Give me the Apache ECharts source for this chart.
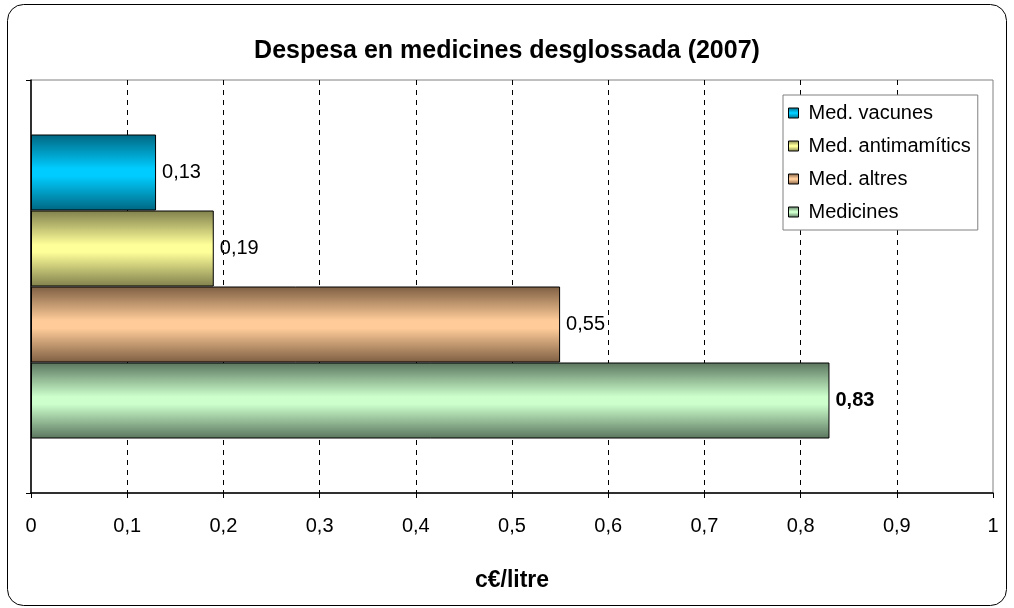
<!DOCTYPE html>
<html>
<head>
<meta charset="utf-8">
<script src="https://cdn.jsdelivr.net/npm/echarts@6/dist/echarts.min.js"></script>
<style>
  html, body { margin: 0; padding: 0; background: #fff; }
  #chart { width: 1014px; height: 608px; }
</style>
</head>
<body>
<div id="chart"></div>
<script>
// dades
var categories = [''];
var seriesNames = ['Med. vacunes', 'Med. antimamítics', 'Med. altres', 'Medicines'];
var seriesValues = [0.13, 0.19, 0.55, 0.83];

// colors: [fosc, clar] per cada serie
var barColors = [
    ['#006680', '#00ccff'],
    ['#80804d', '#ffff99'],
    ['#7d5e42', '#ffcc99'],
    ['#5a755e', '#ccffcc']
];

var FONT = '"Liberation Sans", Arial, sans-serif';

function fmt(v) {
    return String(v).replace('.', ',');
}

function grad(c) {
    return new echarts.graphic.LinearGradient(0, 0, 0, 1, [
        { offset: 0, color: c[0] },
        { offset: 0.45, color: c[1] },
        { offset: 0.55, color: c[1] },
        { offset: 1, color: c[0] }
    ]);
}

var series = seriesNames.map(function (name, i) {
    return {
        name: name,
        type: 'bar',
        data: [seriesValues[i]],
        barWidth: 76,
        barGap: '0%',
        itemStyle: {
            color: grad(barColors[i]),
            borderColor: '#000',
            borderWidth: 1
        },
        label: {
            show: true,
            position: 'right',
            distance: 6,
            color: '#000',
            fontFamily: FONT,
            fontSize: 20,
            fontWeight: i == seriesNames.length - 1 ? 'bold' : 'normal',
            formatter: function (p) { return fmt(p.value); }
        }
    };
});

var chart = echarts.init(document.getElementById('chart'));
chart.setOption({
    animation: false,
    backgroundColor: '#fff',
    textStyle: { fontFamily: FONT },
    title: {
        text: 'Despesa en medicines desglossada (2007)',
        left: 'center',
        top: 34,
        textStyle: { fontFamily: FONT, fontSize: 25, fontWeight: 'bold', color: '#000' }
    },
    graphic: [{
        type: 'rect',
        shape: { x: 7.5, y: 4.5, width: 999, height: 601, r: 16 },
        style: { fill: 'none', stroke: '#000', lineWidth: 1 },
        silent: true,
        z: 100
    }],
    legend: {
        orient: 'vertical',
        left: 783,
        top: 95,
        data: seriesNames,
        icon: 'rect',
        itemWidth: 10,
        itemHeight: 10,
        itemGap: 13,
        padding: [8, 7, 8, 5],
        borderColor: '#808080',
        borderWidth: 1,
        backgroundColor: '#fff',
        textStyle: { fontFamily: FONT, fontSize: 20, color: '#000', padding: [0, 0, 0, 5] },
        itemStyle: { borderColor: '#000', borderWidth: 1 }
    },
    grid: {
        left: 31,
        right: 21,
        top: 80,
        bottom: 115,
        show: true,
        borderColor: '#808080',
        borderWidth: 1,
        backgroundColor: 'transparent'
    },
    xAxis: {
        type: 'value',
        min: 0,
        max: 1,
        interval: 0.1,
        name: 'c€/litre',
        nameLocation: 'middle',
        nameGap: 76,
        nameTextStyle: { fontFamily: FONT, fontSize: 23, fontWeight: 'bold', color: '#000' },
        axisLine: { show: true, lineStyle: { color: '#000', width: 1.5 } },
        axisTick: { show: true, length: 5, lineStyle: { color: '#000' } },
        axisLabel: {
            margin: 23,
            color: '#000',
            fontFamily: FONT,
            fontSize: 20,
            formatter: function (v) { return fmt(Math.round(v * 10) / 10); }
        },
        splitLine: {
            show: true,
            showMinLine: false,
            showMaxLine: false,
            lineStyle: { color: '#000', type: [5, 5], width: 1 }
        }
    },
    yAxis: {
        type: 'category',
        data: categories,
        inverse: true,
        axisLine: { show: true, lineStyle: { color: '#000', width: 1.5 } },
        axisTick: { show: true, length: 5, inside: false, lineStyle: { color: '#000' } },
        axisLabel: { show: false },
        splitLine: { show: false }
    },
    series: series
});
</script>
</body>
</html>
